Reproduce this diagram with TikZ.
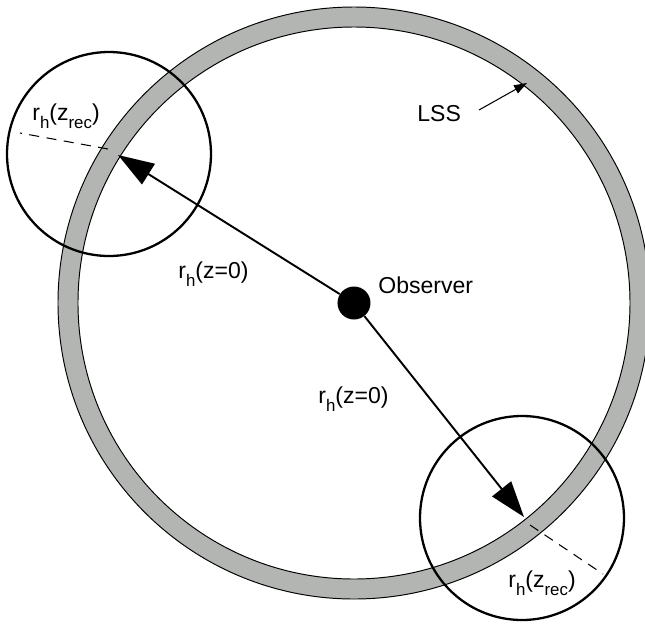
\documentclass[tikz,border=0pt]{standalone}
\usepackage{fontspec}
\setmainfont{Liberation Sans}
\usepackage{tikz}
\usetikzlibrary{arrows.meta,positioning}
\definecolor{lssgray}{RGB}{179,181,179}
\newcommand{\lowsub}[1]{\raisebox{-0.38em}{\fontsize{9.6pt}{10pt}\selectfont #1}}

\begin{document}
\begin{tikzpicture}[
  ringline/.style={line width=0.55pt},
  zcircle/.style={draw, circle, line width=1.3pt, minimum size=4.08cm, inner sep=0pt},
  arrow/.style={-{Triangle[length=0.72cm, width=0.48cm]}, line width=1.1pt},
  lssarrow/.style={-{Triangle[length=0.26cm, width=0.18cm]}, line width=0.6pt},
  dashline/.style={dash pattern=on 0.2cm off 0.15cm, line width=0.6pt},
  lbl/.style={anchor=base west, inner sep=0pt, font=\fontsize{13.1pt}{16pt}\selectfont}
]
\useasboundingbox (-7.08,-6.40) rectangle (5.82,6.06);

% LSS shell
\fill[lssgray, even odd rule] (0,0) circle (5.92) (0,0) circle (5.52);
\draw[ringline] (0,0) circle (5.92);
\draw[ringline] (0,0) circle (5.52);

% recombination spheres
\node[zcircle] (recA) at (-4.90,2.98) {};
\node[zcircle] (recB) at (3.36,-4.30) {};

\node[circle, fill=black, minimum size=0.66cm, inner sep=0pt] (obs) at (0,0) {};

\coordinate (tipA) at (-4.72,2.96);
\coordinate (tipB) at (3.40,-4.28);
\coordinate (dashA1) at (-4.92,3.08);
\coordinate (dashA2) at (-6.68,3.40);
\coordinate (dashB1) at (3.52,-4.44);
\coordinate (dashB2) at (4.98,-5.42);
\coordinate (lssfrom) at (2.50,3.86);
\coordinate (lssto) at (3.46,4.40);

\draw[arrow] (obs) -- (tipA);
\draw[arrow] (obs) -- (tipB);
\draw[dashline] (dashA1) -- (dashA2);
\draw[dashline] (dashB1) -- (dashB2);
\draw[lssarrow] (lssfrom) -- (lssto);

% labels
\node[lbl] (obslbl) at (0.48,0.20) {Observer};
\node[lbl] (lss) at (1.26,3.64) {LSS};
\node[lbl] (rzeroA) at (-3.52,0.50) {r\lowsub{h}(z=0)};
\node[lbl] (rzeroB) at (-0.72,-2.00) {r\lowsub{h}(z=0)};
\node[lbl] (rrecA) at (-6.44,3.66) {r\lowsub{h}(z\lowsub{rec})};
\node[lbl] (rrecB) at (3.08,-5.68) {r\lowsub{h}(z\lowsub{rec})};
\end{tikzpicture}
\end{document}
